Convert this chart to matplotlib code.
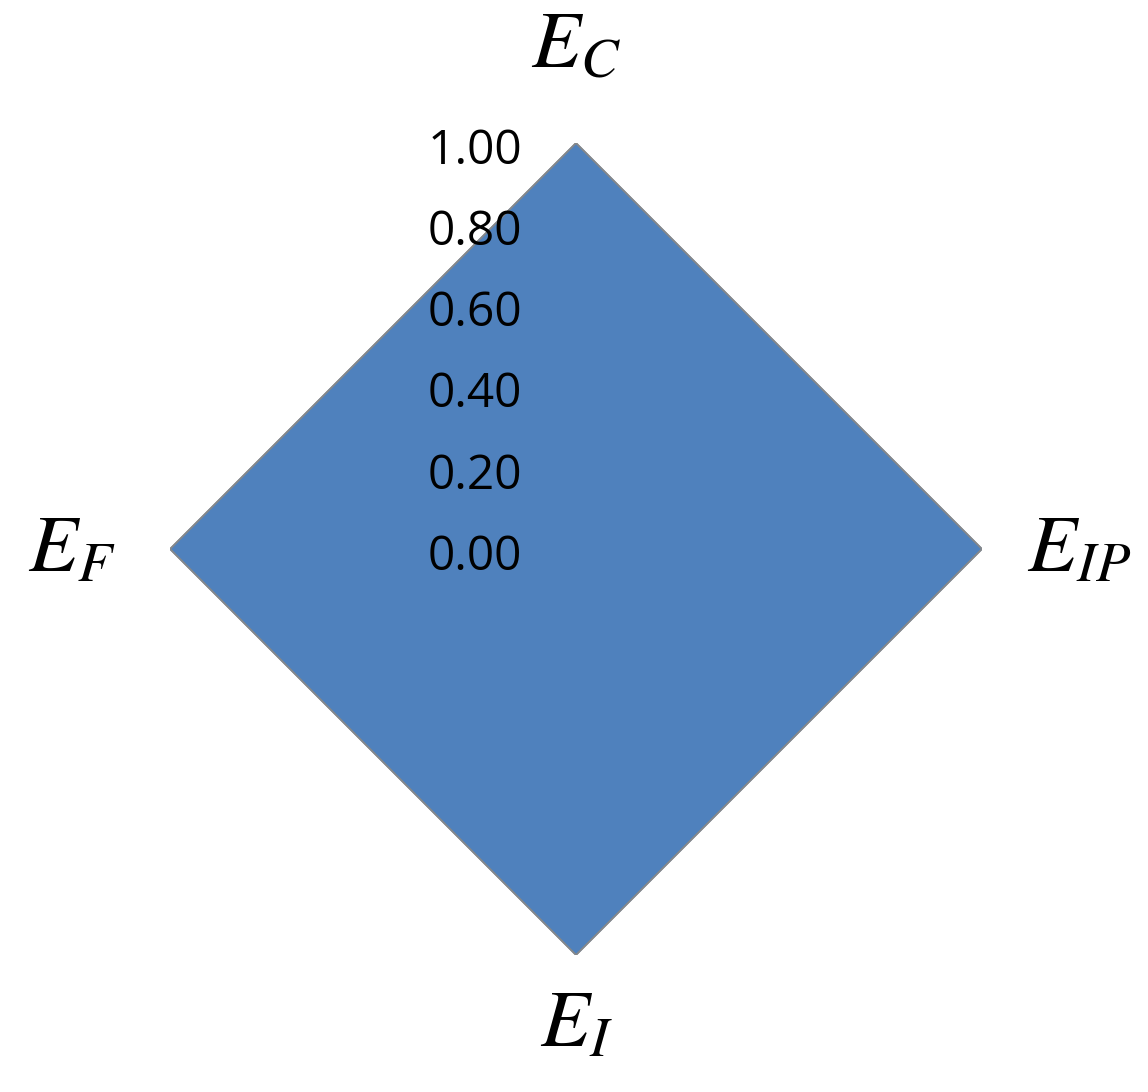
"""radar chart of four efficiency scores"""

import numpy as np
import matplotlib
matplotlib.use("Agg")
import matplotlib.pyplot as plt
import matplotlib.transforms as mtransforms

plt.rcParams["mathtext.fontset"] = "stix"

# axes, clockwise from the top
axis_labels = [r"$E_C$", r"$E_{IP}$", r"$E_I$", r"$E_F$"]
scores = [1.0, 1.0, 1.0, 1.0]
tick_values = [0.0, 0.2, 0.4, 0.6, 0.8, 1.0]
tick_labels = ["0.00", "0.20", "0.40", "0.60", "0.80", "1.00"]


def main():
    fig = plt.figure(figsize=(11.48, 10.92), dpi=100)
    ax = fig.add_axes([170 / 1148, 137 / 1092, 812 / 1148, 812 / 1092], polar=True)
    ax.set_theta_zero_location("N")
    ax.set_theta_direction(-1)

    angles = np.linspace(0, 2 * np.pi, len(scores), endpoint=False)
    theta = np.concatenate([angles, angles[:1]])
    r = np.concatenate([scores, scores[:1]])
    ax.fill(theta, r, color="#4F81BD", zorder=2)
    ax.plot(theta, r, color="#888888", lw=1.3, zorder=3)

    ax.set_ylim(0, 1)
    ax.set_xticks([])
    ax.set_yticks([])
    ax.grid(False)
    ax.spines["polar"].set_visible(False)
    ax.patch.set_visible(False)

    # radial tick labels sit left of the vertical axis
    off = mtransforms.offset_copy(ax.transData, fig=fig, x=-54, y=-8, units="dots")
    for v, lab in zip(tick_values, tick_labels):
        ax.text(0, v, lab, transform=off, ha="right", va="center",
                fontsize=34.5, family="Open Sans", zorder=4)

    # axis names
    ax.text(angles[0], 1.24, axis_labels[0], ha="center", va="center", fontsize=58)
    ax.text(angles[1], 1.11, axis_labels[1], ha="left", va="center", fontsize=58)
    ax.text(angles[2], 1.17, axis_labels[2], ha="center", va="center", fontsize=58)
    ax.text(angles[3], 1.135, axis_labels[3], ha="right", va="center", fontsize=58)

    fig.savefig("out.png", dpi=100, facecolor="white")
    plt.close(fig)


if __name__ == "__main__":
    main()
